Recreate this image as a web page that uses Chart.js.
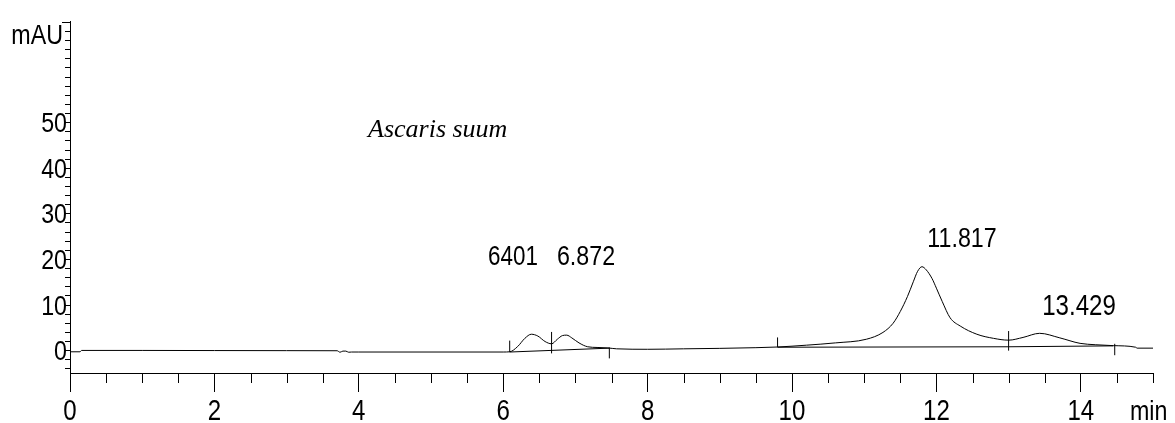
<!DOCTYPE html>
<html>
<head>
<meta charset="utf-8">
<script src="https://cdn.jsdelivr.net/npm/chart.js@4.4.1/dist/chart.umd.min.js"></script>
<style>
  html, body { margin: 0; padding: 0; background: #fff; }
  #wrap { width: 1175px; height: 423px; }
</style>
</head>
<body>
<div id="wrap"><canvas id="c" width="1175" height="423"></canvas></div>
<script>
// ---- data ----
const times  = [0.00, 0.14, 0.16, 1.0, 2.0, 3.0, 3.70, 3.74, 3.78, 3.82, 3.86, 3.90, 4.0, 5.0, 6.0, 6.09,
                6.20, 6.30, 6.39, 6.48, 6.58, 6.67, 6.75, 6.82, 6.88, 6.95, 7.05, 7.17, 7.30, 7.45, 7.57,
                8.0, 8.5, 9.0, 9.5, 9.8, 10.2, 10.6, 11.03, 11.26, 11.40, 11.50, 11.60, 11.68, 11.74, 11.80,
                11.86, 11.94, 12.00, 12.08, 12.19, 12.33, 12.56, 12.79, 13.00, 13.20, 13.43, 13.71, 13.99,
                14.20, 14.45, 14.76, 14.78, 15.0];
const signal = [-0.35, -0.35, -0.05, -0.05, -0.08, -0.1, -0.12, -0.45, -0.2, -0.2, -0.45, -0.4, -0.4, -0.4, -0.4, -0.35,
                0.8, 2.6, 3.5, 3.1, 1.9, 1.4, 2.4, 3.2, 3.3, 2.7, 1.6, 0.75, 0.6, 0.5, 0.3,
                0.2, 0.3, 0.4, 0.55, 0.7, 1.1, 1.6, 2.4, 3.9, 5.9, 8.5, 11.8, 15.0, 17.3, 18.3,
                17.6, 15.7, 13.6, 10.7, 7.1, 5.3, 3.5, 2.6, 2.2, 2.8, 3.7, 2.7, 1.5,
                1.2, 1.0, 0.65, 0.45, 0.45];

// integration baselines (null separates segments)
const baseTimes  = [6.09, 7.47, null, 9.80, 13.00, null, 13.00, 14.45];
const baseValues = [-0.4, 0.45, null, 0.65, 0.75, null, 0.75, 0.95];

// peak start/end markers
const markerTimes  = [6.09, 6.67, 7.47, 9.80, 13.00, 14.47];
const markerTop    = [2.1, 4.0, 0.6, 2.8, 4.2, 1.4];
const markerBottom = [-0.4, -0.7, -1.8, 0.65, -0.1, -1.1];

// peak annotations
const peakLabels = ['6401', '6.872', '11.817', '13.429'];

// axis tick labels
const xTickLabels = [0, 2, 4, 6, 8, 10, 12, 14];
const yTickLabels = [0, 10, 20, 30, 40, 50];

const yUnit = 'mAU';
const xUnit = 'min';
const sampleName = 'Ascaris suum';

// ---- build datasets ----
const signalData = times.map((t, i) => ({ x: t, y: signal[i] }));
const baseData = baseTimes.map((t, i) => (t === null ? { x: NaN, y: null } : { x: t, y: baseValues[i] }));
const markerData = [];
markerTimes.forEach((t, i) => {
  markerData.push({ x: t, y: markerBottom[i] });
  markerData.push({ x: t, y: markerTop[i] });
  markerData.push({ x: t, y: null });
});

const FONT = "'Liberation Sans', Arial, sans-serif";
const SQUEEZE = 0.83;

function narrowText(ctx, text, x, y, align, size) {
  ctx.save();
  ctx.translate(x, y);
  ctx.scale(SQUEEZE, 1);
  ctx.font = size + 'px ' + FONT;
  ctx.textAlign = align;
  ctx.textBaseline = 'alphabetic';
  ctx.fillText(text, 0, 0);
  ctx.restore();
}

const decor = {
  id: 'decor',
  afterDraw(chart) {
    const ctx = chart.ctx;
    const xs = chart.scales.x, ys = chart.scales.y;
    const area = chart.chartArea;
    ctx.save();
    ctx.strokeStyle = '#000';
    ctx.lineWidth = 1;
    // minor x ticks every 0.5
    ctx.beginPath();
    for (let k = 1; k <= 30; k++) {
      const v = k * 0.5;
      if (xTickLabels.includes(v)) continue;
      const px = Math.round(xs.getPixelForValue(v)) + 0.5;
      ctx.moveTo(px, area.bottom);
      ctx.lineTo(px, area.bottom + 10);
    }
    // y ticks every 2
    for (let v = -4; v <= 72; v += 2) {
      const py = Math.round(ys.getPixelForValue(v)) + 0.5;
      ctx.moveTo(area.left - (v === 72 ? 8 : 5), py);
      ctx.lineTo(area.left, py);
    }
    ctx.stroke();
    ctx.fillStyle = '#000';

    // axis tick labels (placed through the scales)
    xTickLabels.forEach(v => narrowText(ctx, String(v), xs.getPixelForValue(v), area.bottom + 47, 'center', 29));
    yTickLabels.forEach(v => narrowText(ctx, String(v), area.left - 3, ys.getPixelForValue(v) + 10, 'right', 28));

    narrowText(ctx, yUnit, 63, 44, 'right', 28);
    narrowText(ctx, xUnit, 1130, 420, 'left', 28);

    // peak labels
    narrowText(ctx, peakLabels[0], 513, 265, 'center', 27);
    narrowText(ctx, peakLabels[1], 586, 265, 'center', 28);
    narrowText(ctx, peakLabels[2], 962, 247, 'center', 28);
    narrowText(ctx, peakLabels[3], 1079, 315, 'center', 29);

    ctx.textAlign = 'left';
    ctx.textBaseline = 'alphabetic';
    ctx.font = "italic 26px 'Liberation Serif', 'Times New Roman', serif";
    ctx.fillText(sampleName, 368, 137);
    ctx.restore();
  }
};

new Chart(document.getElementById('c'), {
  type: 'line',
  data: {
    datasets: [
      { data: signalData, borderColor: '#000', borderWidth: 1, pointRadius: 0,
        cubicInterpolationMode: 'monotone', fill: false },
      { data: baseData, borderColor: '#000', borderWidth: 1, pointRadius: 0, tension: 0,
        spanGaps: false, fill: false },
      { data: markerData, borderColor: '#000', borderWidth: 1, pointRadius: 0, tension: 0,
        spanGaps: false, fill: false }
    ]
  },
  options: {
    responsive: false,
    animation: false,
    devicePixelRatio: 1,
    layout: { padding: { top: 14, right: 22, left: 0, bottom: 0 } },
    plugins: { legend: { display: false }, tooltip: { enabled: false } },
    scales: {
      x: {
        type: 'linear', min: 0, max: 15, position: 'bottom',
        afterFit(s) { s.height = 50; },
        ticks: {
          stepSize: 2, includeBounds: false, color: '#000', padding: 0, maxRotation: 0,
          autoSkip: false, font: { family: FONT, size: 28 },
          callback: () => ''
        },
        grid: { drawOnChartArea: false, drawTicks: true, tickLength: 19, color: '#000', tickColor: '#000' },
        border: { display: true, color: '#000', width: 1 }
      },
      y: {
        type: 'linear', min: -5, max: 72,
        afterFit(s) { s.width = 70; },
        ticks: {
          stepSize: 10, includeBounds: false, color: '#000', padding: 5, autoSkip: false,
          font: { family: FONT, size: 28 },
          callback: () => ''
        },
        grid: { drawOnChartArea: false, drawTicks: false },
        border: { display: true, color: '#000', width: 1 }
      }
    }
  },
  plugins: [decor]
});
</script>
</body>
</html>
